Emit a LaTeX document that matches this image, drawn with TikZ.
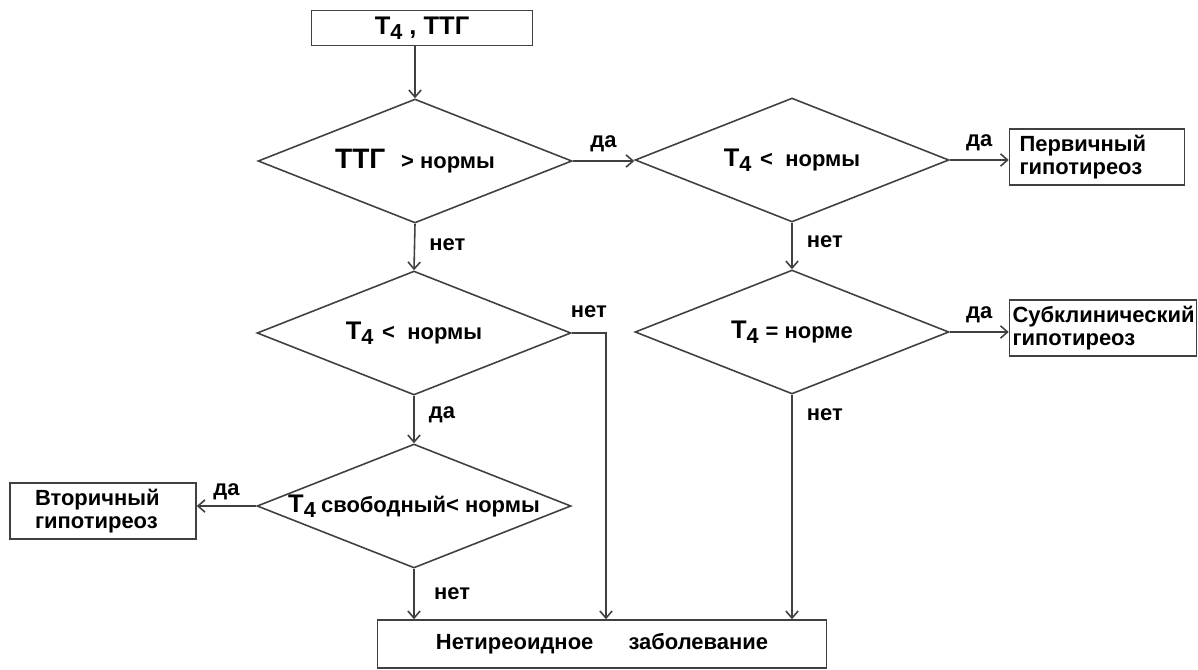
\documentclass[tikz,border=0pt]{standalone}
\usepackage{fontspec}
\setmainfont{Liberation Sans}
\usepackage{graphicx}
\usetikzlibrary{shapes.geometric, arrows.meta, positioning, calc}
\newcommand{\Tf}{T\raisebox{-0.35ex}{\scalebox{0.85}{4}}}
\newcommand{\Lg}[1]{{\fontsize{14.5}{16}\selectfont #1}}

\tikzset{
  box/.style={rectangle, draw=black!75, line width=0.9pt, minimum height=1cm},
  rhomb/.style={diamond, draw=black!75, line width=0.9pt, aspect=2.5, inner sep=0pt, minimum width=6.28cm, minimum height=2.48cm},
  arr/.style={->, draw=black!75, line width=0.9pt},
  lbl/.style={inner sep=0pt}
}

\begin{document}
\begin{tikzpicture}[x=0.02cm, y=-0.02cm, font=\bfseries\fontsize{12.5}{13}\selectfont, >={Straight Barb[length=4pt,width=7pt]}]
\useasboundingbox (0,0) rectangle (1198,670);

% start and questions
\node[box, minimum width=4.42cm, minimum height=0.7cm] (t0) at (422,28) {\Lg{\Tf{} , ТТГ}};
\node[rhomb] (d1) at (415,161) {{\fontsize{16}{18}\selectfont ТТГ}\hspace{9pt}> нормы};
\node[rhomb] (d2) at (792,160) {\Lg{\Tf}\hspace{5pt}<\hspace{7pt}нормы};
\node[rhomb] (d3) at (792,332) {\Lg{\Tf}\hspace{4pt}= норме};
\node[rhomb] (d4) at (414,333) {\Lg{\Tf}\hspace{5pt}<\hspace{7pt}нормы};
\node[rhomb] (d5) at (414,506) {\Lg{\Tf}\hspace{3pt}свободный< нормы};

% results
\node[box, minimum width=3.5cm, inner xsep=0.2cm, text width=3.1cm, align=left] (p1) at (1097,157) {Первичный\\гипотиреоз};
\node[box, minimum width=3.74cm, inner xsep=0.06cm, text width=3.62cm, align=left] (s1) at (1103,328) {Субклинический\\гипотиреоз};
\node[box, minimum width=3.72cm, inner xsep=0.5cm, text width=2.72cm, align=left] (v1) at (103,511) {Вторичный\\гипотиреоз};
\node[box, minimum width=8.98cm, minimum height=0.96cm] (n1) at (602,644) {Нетиреоидное\hspace{20pt}заболевание};

\coordinate (k1) at (606,333);

\draw[arr] (t0.south -| d1.north) -- (d1.north);
\draw[arr] (d1.east) -- node[lbl, above=5pt] (l1) {да} (d1.east -| d2.west);
\draw[arr] (d2.east) -- node[lbl, above=5pt] (l2) {да} (d2.east -| p1.west);
\draw[arr] (d1.south) -- node[lbl, pos=0.45, right=8pt] (l3) {нет} (d4.north);
\draw[arr] (d2.south) -- node[lbl, pos=0.4, right=8pt] (l4) {нет} (d3.north);
\draw[arr] (d3.east) -- node[lbl, above=5pt] (l5) {да} (d3.east -| s1.west);
\draw[arr] (d4.south) -- node[lbl, pos=0.4, right=8pt] (l6) {да} (d5.north);
\draw[arr] (d5.west) -- node[lbl, above=3pt] (l7) {да} (d5.west -| v1.east);
\draw[arr] (d4.east) -- node[lbl, above=8pt] (l8) {нет} (k1) -- (k1 |- n1.north);
\draw[arr] (d5.south) -- node[lbl, right=11pt] (l9) {нет} (d5.south |- n1.north);
\draw[arr] (d3.south) -- node[lbl, pos=0.09, right=8pt] (l10) {нет} (d3.south |- n1.north);
\end{tikzpicture}
\end{document}
